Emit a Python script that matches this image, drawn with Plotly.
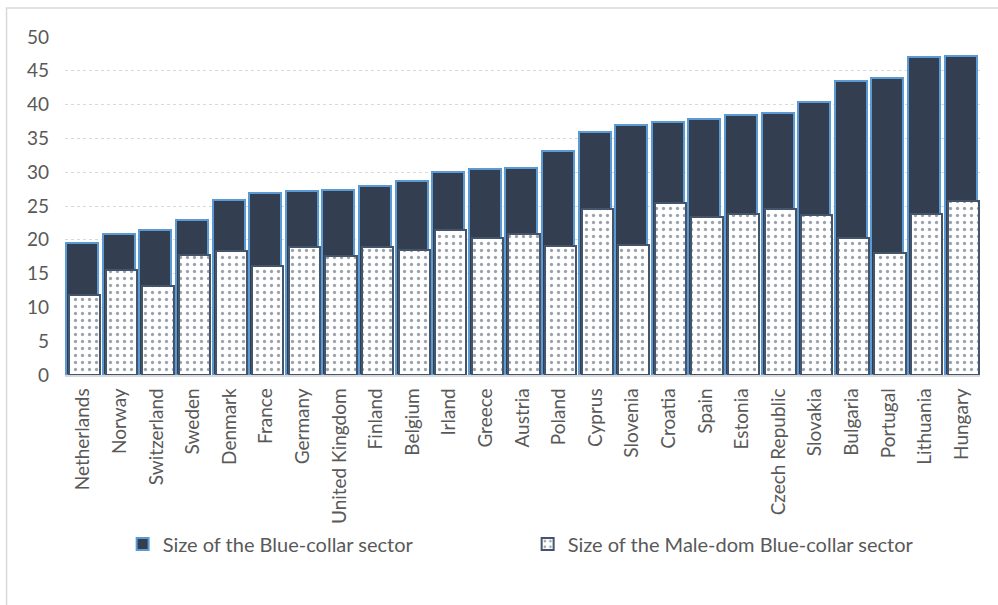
import plotly.graph_objects as go

countries = [
    "Netherlands", "Norway", "Switzerland", "Sweden", "Denmark", "France",
    "Germany", "United Kingdom", "Finland", "Belgium", "Irland", "Greece",
    "Austria", "Poland", "Cyprus", "Slovenia", "Croatia", "Spain", "Estonia",
    "Czech Republic", "Slovakia", "Bulgaria", "Portugal", "Lithuania", "Hungary",
]
blue_collar = [
    19.6, 20.9, 21.5, 22.9, 25.9, 26.9, 27.2, 27.4, 28.0, 28.7, 30.1, 30.5,
    30.6, 33.2, 35.9, 37.0, 37.5, 37.8, 38.5, 38.8, 40.4, 43.5, 44.0, 47.0, 47.2,
]
male_dom_blue_collar = [
    11.8, 15.6, 13.1, 17.7, 18.4, 16.1, 18.9, 17.6, 19.0, 18.5, 21.4, 20.2,
    20.8, 19.1, 24.6, 19.3, 25.5, 23.3, 23.8, 24.6, 23.6, 20.2, 18.0, 23.8, 25.8,
]
y_ticks = [0, 5, 10, 15, 20, 25, 30, 35, 40, 45, 50]

FONT = "Lato"
TEXT = "#595959"

fig = go.Figure()
fig.add_trace(go.Bar(
    name="Size of the Blue-collar sector",
    x=countries, y=blue_collar,
    width=0.87, offset=-0.465,
    marker=dict(color="#333F50", line=dict(color="#5B9BD5", width=2)),
))
fig.add_trace(go.Bar(
    name="Size of the Male-dom Blue-collar sector",
    x=countries, y=male_dom_blue_collar,
    width=0.85, offset=-0.385,
    marker=dict(
        color="white",
        line=dict(color="#44546A", width=2),
        pattern=dict(shape=".", fgcolor="#3A4658", bgcolor="white",
                     size=7, solidity=0.17),
    ),
))

# light frame around the chart area
fig.add_shape(type="rect", xref="paper", yref="paper",
              x0=-0.0639, x1=1.05, y0=-0.8, y1=1.0858,
              line=dict(color="#D9D9D9", width=1.5), fillcolor="rgba(0,0,0,0)",
              layer="below")

fig.update_layout(
    width=998, height=605,
    margin=dict(l=65, r=18, t=37, b=230),
    paper_bgcolor="white", plot_bgcolor="white",
    barmode="overlay", bargap=0,
    font=dict(family=FONT, color=TEXT, size=19),
    showlegend=True,
    legend=dict(orientation="h", x=0.063, xanchor="left", y=-0.5, yanchor="middle",
                font=dict(family=FONT, color=TEXT, size=20),
                traceorder="normal", itemwidth=30,
                entrywidth=360, entrywidthmode="pixels"),
    xaxis=dict(
        type="category", tickangle=-90, showline=True, linecolor="#D9D9D9",
        linewidth=1.5, ticks="", showgrid=False,
        tickfont=dict(family=FONT, color=TEXT, size=19),
        ticklabelstandoff=4,
    ),
    yaxis=dict(
        range=[0, 50], tickvals=y_ticks, showgrid=True, gridcolor="#D9D9D9",
        griddash="dot", gridwidth=1, zeroline=False, showline=False, ticks="",
        tickfont=dict(family=FONT, color=TEXT, size=19),
        ticklabelstandoff=15,
    ),
)

fig.write_html("out.html")
